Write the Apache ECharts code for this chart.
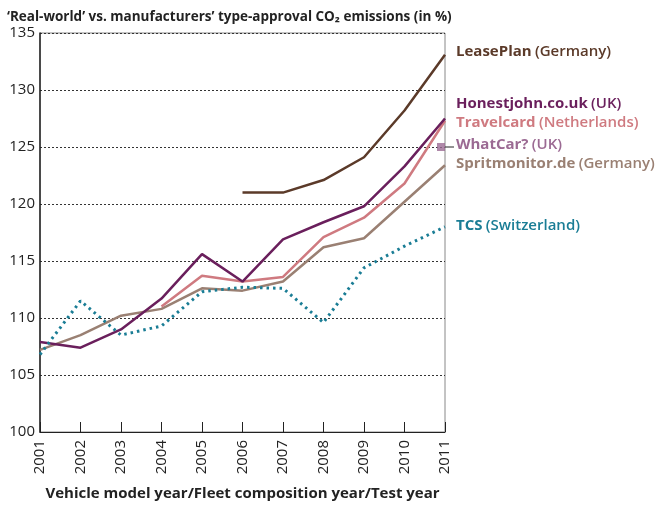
<!DOCTYPE html>
<html>
<head>
<meta charset="utf-8">
<script src="https://cdn.jsdelivr.net/npm/echarts@6/dist/echarts.min.js"></script>
<style>
html,body{margin:0;padding:0;background:#fff;}
#chart{width:660px;height:506px;}
</style>
</head>
<body>
<div id="chart"></div>
<script>
var years = ['2001','2002','2003','2004','2005','2006','2007','2008','2009','2010','2011'];

var leasePlan   = [null, null, null, null, null, 121.0, 121.0, 122.1, 124.1, 128.2, 133.1];
var honestjohn  = [107.9, 107.4, 109.0, 111.7, 115.6, 113.2, 116.9, 118.4, 119.8, 123.3, 127.5];
var travelcard  = [null, null, null, 111.0, 113.7, 113.2, 113.6, 117.1, 118.8, 121.8, 127.3];
var whatCar     = [null, null, null, null, null, null, null, null, null, null, 125.0];
var spritmonitor= [107.2, 108.5, 110.2, 110.8, 112.6, 112.4, 113.2, 116.2, 117.0, 120.2, 123.4];
var tcs         = [106.8, 111.5, 108.5, 109.3, 112.3, 112.7, 112.6, 109.6, 114.4, 116.3, 118.0];

var FONT = '"Open Sans", "DejaVu Sans", sans-serif';

//右侧标签
function label(name, country, color, y)
{
	return {
		type: 'text',
		left: 456,
		top: y - 10,
		style: {
			text: '{a|' + name + '} {b|' + country + '}',
			rich: {
				a: {fontFamily: FONT, fontSize: 15, fontWeight: 'bold', fill: color},
				b: {fontFamily: FONT, fontSize: 15, fontWeight: 600, fill: color}
			}
		}
	};
}

var chart = echarts.init(document.getElementById('chart'));

option = {
	animation: false,
	title: {
		text: '\u2018Real-world\u2019 vs. manufacturers\u2019 type-approval CO\u2082 emissions (in %)',
		left: 2,
		top: 5,
		textStyle: {fontFamily: FONT, fontSize: 13.5, fontWeight: 'bold', color: '#222'}
	},
	grid: {left: 40, right: 215, top: 33, bottom: 74, show: true, borderColor: '#888', borderWidth: 1,
		outerBoundsMode: 'none'},
	xAxis: {
		type: 'category',
		data: years,
		boundaryGap: false,
		name: 'Vehicle model year/Fleet composition year/Test year',
		nameLocation: 'middle',
		nameGap: 54,
		nameMoveOverlap: false,
		nameTextStyle: {fontFamily: FONT, fontSize: 15, fontWeight: 'bold', color: '#222'},
		axisLine: {lineStyle: {color: '#222', width: 1}},
		axisTick: {inside: true, length: 10, lineStyle: {color: '#222'}},
		axisLabel: {rotate: 90, fontFamily: FONT, fontSize: 15, color: '#222', margin: 8},
		splitLine: {show: false}
	},
	yAxis: {
		type: 'value',
		min: 100,
		max: 135,
		interval: 5,
		axisLine: {show: true, lineStyle: {color: '#222', width: 1.5}},
		axisTick: {show: false},
		axisLabel: {fontFamily: FONT, fontSize: 15, color: '#222', margin: 5},
		splitLine: {lineStyle: {color: '#333', type: [2, 2], width: 1}}
	},
	series: [
		{name: 'LeasePlan', type: 'line', data: leasePlan, symbol: 'none', lineStyle: {color: '#5b3a29', width: 2.5}},
		{name: 'Spritmonitor.de', type: 'line', data: spritmonitor, symbol: 'none', lineStyle: {color: '#9a8073', width: 2.5}},
		{name: 'Travelcard', type: 'line', data: travelcard, symbol: 'none', lineStyle: {color: '#cf7a80', width: 2.5}},
		{name: 'Honestjohn.co.uk', type: 'line', data: honestjohn, symbol: 'none', lineStyle: {color: '#6a1f5c', width: 2.5}},
		{name: 'TCS', type: 'line', data: tcs, symbol: 'none', lineStyle: {color: '#1a7d95', width: 3, type: [2.5, 4]}},
		{name: 'WhatCar?', type: 'scatter', data: whatCar, symbol: 'rect', symbolSize: 8, symbolOffset: [-4, 0],
			itemStyle: {color: '#9b6a93'}, z: 5}
	],
	graphic: [
		{type: 'line', shape: {x1: 445, y1: 147, x2: 454, y2: 147}, style: {stroke: '#222', lineWidth: 1}},
		label('LeasePlan', '(Germany)', '#5b3a29', 54),
		label('Honestjohn.co.uk', '(UK)', '#6a1f5c', 106),
		label('Travelcard', '(Netherlands)', '#cf7a80', 125),
		label('WhatCar?', '(UK)', '#9b6a93', 147),
		label('Spritmonitor.de', '(Germany)', '#9a8073', 166),
		label('TCS', '(Switzerland)', '#1a7d95', 228)
	]
};
chart.setOption(option);
</script>
</body>
</html>
